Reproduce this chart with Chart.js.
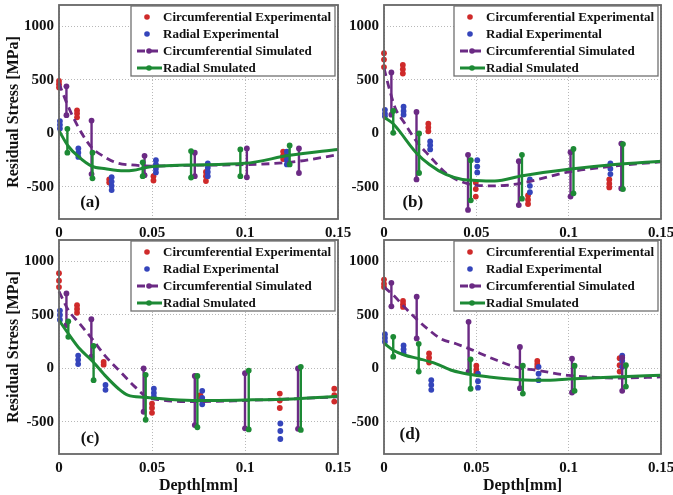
<!DOCTYPE html>
<html>
<head>
<meta charset="utf-8">
<title>Residual stress vs depth</title>
<script src="https://cdn.jsdelivr.net/npm/chart.js@4.4.1/dist/chart.umd.min.js"></script>
<style>
  html, body { margin: 0; padding: 0; background: #fff; }
  #wrap { position: relative; width: 673px; height: 495px; }
  #wrap canvas { position: absolute; left: 0; top: 0; }
</style>
</head>
<body>
<div id="wrap">
  <canvas id="panel_a" width="673" height="495"></canvas>
  <canvas id="panel_b" width="673" height="495"></canvas>
  <canvas id="panel_c" width="673" height="495"></canvas>
  <canvas id="panel_d" width="673" height="495"></canvas>
</div>
<script>
// axis ticks
const depthTicks = [0, 0.05, 0.1, 0.15];
const stressTicks = [-500, 0, 500, 1000];

const seriesNames = ["Circumferential Experimental", "Radial Experimental", "Circumferential Simulated", "Radial Smulated"];

// ---- panel (a) ---- [depth, stress] / bars: [depth, low, high]
const circExpA = [[0, 490], [0, 460], [0, 430], [0.0097, 215], [0.0097, 185], [0.0097, 150], [0.027, -430], [0.027, -460],
    [0.0508, -400], [0.0508, -440], [0.079, -360], [0.079, -400], [0.079, -445], [0.1205, -170], [0.1205, -205], [0.1205, -240]];
const radExpA = [[0.0005, 115], [0.0005, 80], [0.0005, 45], [0.0104, -140], [0.0104, -180], [0.0104, -220],
    [0.0283, -410], [0.0283, -450], [0.0283, -490], [0.0283, -530], [0.0521, -250], [0.0521, -290], [0.0521, -330], [0.0521, -365],
    [0.08, -280], [0.08, -320], [0.08, -360], [0.08, -400], [0.1225, -170], [0.1225, -210], [0.1225, -250], [0.1225, -290]];
const circSimA = [[0, 470], [0.004, 290], [0.01, 70], [0.0175, -130], [0.025, -225], [0.031, -275], [0.039, -295], [0.05, -305],
    [0.07, -298], [0.1, -292], [0.125, -268], [0.15, -200]];
const radSimA = [[0, 25], [0.005, -120], [0.01, -210], [0.0175, -305], [0.025, -330], [0.035, -350], [0.04, -345], [0.047, -318],
    [0.055, -305], [0.07, -295], [0.1, -280], [0.124, -205], [0.15, -150]];
const circBarA = [[0.004, 170, 440], [0.0175, -380, 120], [0.046, -390, -210], [0.073, -400, -180], [0.101, -410, -140], [0.129, -370, -140]];
const radBarA = [[0.0045, -180, 43], [0.018, -420, -180], [0.045, -400, -270], [0.071, -413, -165], [0.0975, -400, -150], [0.124, -290, -112]];

// ---- panel (b) ----
const circExpB = [[0, 750], [0, 690], [0, 620], [0.0102, 640], [0.0102, 600], [0.0102, 560], [0.024, 90], [0.024, 55], [0.024, 20],
    [0.0497, -460], [0.0497, -520], [0.0497, -590], [0.078, -580], [0.078, -620], [0.078, -660], [0.122, -430], [0.122, -470], [0.122, -505]];
const radExpB = [[0.0005, 220], [0.0005, 185], [0.0005, 160], [0.0106, 250], [0.0106, 210], [0.0106, 175], [0.025, -75], [0.025, -110], [0.025, -150],
    [0.0505, -250], [0.0505, -310], [0.0505, -365], [0.079, -430], [0.079, -490], [0.079, -550], [0.1226, -280], [0.1226, -330], [0.1226, -380]];
const circSimB = [[0, 610], [0.003, 410], [0.006, 240], [0.011, 100], [0.0174, -70], [0.0246, -210], [0.0335, -370], [0.041, -445],
    [0.05, -485], [0.06, -490], [0.073, -470], [0.1, -360], [0.125, -305], [0.15, -265]];
const radSimB = [[0, 150], [0.005, 90], [0.0075, 40], [0.0174, -180], [0.0246, -290], [0.0335, -383], [0.0425, -430], [0.05, -440],
    [0.06, -445], [0.075, -395], [0.1, -335], [0.125, -290], [0.15, -260]];
const circBarB = [[0.004, 175, 570], [0.0176, -430, 200], [0.0455, -715, -200], [0.073, -670, -260], [0.101, -590, -175], [0.1285, -515, -95]];
const radBarB = [[0.005, 5, 210], [0.019, -370, 0], [0.047, -625, -250], [0.0747, -610, -200], [0.1026, -560, -145], [0.1294, -520, -100]];

// ---- panel (c) ----
const circExpC = [[0, 890], [0, 820], [0, 760], [0.0097, 590], [0.0097, 555], [0.0097, 520], [0.024, 60], [0.024, 35],
    [0.05, -330], [0.05, -370], [0.05, -415], [0.076, -250], [0.076, -290], [0.1187, -235], [0.1187, -300], [0.1187, -370],
    [0.148, -190], [0.148, -250], [0.148, -310]];
const radExpC = [[0.0005, 540], [0.0005, 500], [0.0005, 455], [0.0103, 120], [0.0103, 80], [0.0103, 40], [0.025, -155], [0.025, -200],
    [0.051, -190], [0.051, -230], [0.051, -265], [0.077, -210], [0.077, -275], [0.077, -335], [0.119, -515], [0.119, -585], [0.119, -660]];
const circSimC = [[0, 720], [0.005, 545], [0.011, 420], [0.0176, 280], [0.0247, 120], [0.034, -50], [0.041, -175], [0.047, -265],
    [0.055, -295], [0.075, -310], [0.1, -300], [0.125, -285], [0.15, -265]];
const radSimC = [[0, 450], [0.005, 325], [0.011, 185], [0.0176, 75], [0.0247, -65], [0.032, -190], [0.037, -250], [0.046, -270],
    [0.06, -290], [0.075, -300], [0.1, -295], [0.125, -285], [0.15, -260]];
const circBarC = [[0.004, 405, 700], [0.0174, 110, 460], [0.0455, -405, 0], [0.073, -530, -70], [0.1, -560, -45], [0.1285, -565, 0]];
const radBarC = [[0.005, 295, 440], [0.0186, -110, 210], [0.0466, -480, -60], [0.0744, -550, -70], [0.102, -570, -20], [0.13, -575, 15]];

// ---- panel (d) ----
const circExpD = [[0, 830], [0, 790], [0, 760], [0.0103, 630], [0.0103, 600], [0.0103, 575], [0.0244, 140], [0.0244, 100], [0.0244, 55],
    [0.05, 25], [0.05, -10], [0.05, -40], [0.083, 70], [0.083, 40], [0.083, 15], [0.1276, 95], [0.1276, 30], [0.1276, -30]];
const radExpD = [[0.0005, 320], [0.0005, 285], [0.0005, 250], [0.0106, 215], [0.0106, 180], [0.0106, 145], [0.0256, -110], [0.0256, -155], [0.0256, -200],
    [0.0509, -50], [0.0509, -120], [0.0509, -180], [0.0837, 15], [0.0837, -50], [0.0837, -110], [0.129, 120], [0.129, 70], [0.129, 15]];
const circSimD = [[0, 760], [0.005, 685], [0.011, 575], [0.0174, 465], [0.0246, 355], [0.031, 275], [0.039, 230], [0.046, 185],
    [0.059, 90], [0.073, 5], [0.082, -15], [0.1, -65], [0.128, -90], [0.15, -80]];
const radSimD = [[0, 235], [0.005, 170], [0.011, 125], [0.019, 90], [0.028, 45], [0.037, -20], [0.046, -55], [0.057, -80],
    [0.073, -105], [0.09, -110], [0.1, -100], [0.125, -80], [0.15, -65]];
const circBarD = [[0.004, 580, 800], [0.0177, 280, 670], [0.0458, -30, 435], [0.0736, -185, 200], [0.1018, -225, 90], [0.129, -210, 100]];
const radBarD = [[0.005, 110, 295], [0.0188, -30, 230], [0.0469, -190, 85], [0.0752, -235, 25], [0.1032, -210, 25], [0.131, -170, 30]];

const RED = "#cf2a2a";
const BLUE = "#3545bb";
const PURPLE = "#6b2a84";
const GREEN = "#1d8a35";
const FONT = "'Liberation Serif', 'DejaVu Serif', serif";

const toPts = arr => arr.map(([x, y]) => ({ x: x, y: y }));
const toBars = arr => arr.flatMap(([x, lo, hi]) => [{ x: x, y: lo }, { x: x, y: hi }, { x: x, y: null }]);

// frame, panel tag and boxed legend
const panelDecor = {
    id: "panelDecor",
    afterDraw(chart, args, opts) {
        const ctx = chart.ctx;
        const a = chart.chartArea;
        ctx.save();
        ctx.strokeStyle = "#666";
        ctx.lineWidth = 1.8;
        ctx.strokeRect(a.left, a.top, a.right - a.left, a.bottom - a.top);

        ctx.font = "bold 17px " + FONT;
        ctx.fillStyle = "#111";
        ctx.textAlign = "center";
        ctx.textBaseline = "middle";
        ctx.fillText(opts.tag, chart.scales.x.getPixelForValue(opts.tagAt[0]), chart.scales.y.getPixelForValue(opts.tagAt[1]));

        // legend box
        const w = 204, h = 70;
        const bx = a.right - 3 - w, by = a.top + 1;
        ctx.fillStyle = "#fff";
        ctx.fillRect(bx, by, w, h);
        ctx.strokeStyle = "#707070";
        ctx.lineWidth = 1.3;
        ctx.strokeRect(bx, by, w, h);

        const keyed = chart.data.datasets.filter(d => d.keyIndex !== undefined).sort((p, q) => p.keyIndex - q.keyIndex);
        keyed.forEach((ds, i) => {
            const y = by + 11 + i * 17;
            const col = ds.pointBackgroundColor;
            if (ds.showLine) {
                ctx.strokeStyle = ds.borderColor;
                ctx.lineWidth = ds.borderWidth;
                ctx.setLineDash(ds.borderDash || []);
                ctx.beginPath();
                ctx.moveTo(bx + 6, y);
                ctx.lineTo(bx + 31, y);
                ctx.stroke();
                ctx.setLineDash([]);
            }
            ctx.fillStyle = col;
            ctx.beginPath();
            ctx.arc(bx + (ds.showLine ? 18 : 16), y, 2.8, 0, Math.PI * 2);
            ctx.fill();
            ctx.fillStyle = "#111";
            ctx.font = "bold 13px " + FONT;
            ctx.textAlign = "left";
            ctx.fillText(ds.label, bx + 32, y + 1);
        });
        ctx.restore();
    }
};

function makePanel(id, p) {
    const yW = p.yTitle ? 59 : 50;
    const xH = p.xTitle ? 41 : 22;
    return new Chart(id,
    {
        type: "scatter",
        data:
        {
            datasets:
            [
                {
                    label: seriesNames[3], keyIndex: 3, data: toPts(p.radSim), showLine: true,
                    borderColor: GREEN, borderWidth: 3, pointRadius: 0, pointBackgroundColor: GREEN,
                    cubicInterpolationMode: "monotone", order: 1
                },
                {
                    label: "radial bars", data: toBars(p.radBar), showLine: true, spanGaps: false,
                    borderColor: GREEN, borderWidth: 2.4, pointRadius: 2.9, pointBorderWidth: 0,
                    pointBackgroundColor: GREEN, order: 2
                },
                {
                    label: seriesNames[2], keyIndex: 2, data: toPts(p.circSim), showLine: true,
                    borderColor: PURPLE, borderWidth: 2.8, borderDash: [8, 5], pointRadius: 0,
                    pointBackgroundColor: PURPLE, cubicInterpolationMode: "monotone", order: 3
                },
                {
                    label: "circumferential bars", data: toBars(p.circBar), showLine: true, spanGaps: false,
                    borderColor: PURPLE, borderWidth: 2.4, pointRadius: 2.9, pointBorderWidth: 0,
                    pointBackgroundColor: PURPLE, order: 4
                },
                {
                    label: seriesNames[1], keyIndex: 1, data: toPts(p.radExp), showLine: false,
                    pointRadius: 2.9, pointBorderWidth: 0, pointBackgroundColor: BLUE, order: 5
                },
                {
                    label: seriesNames[0], keyIndex: 0, data: toPts(p.circExp), showLine: false,
                    pointRadius: 2.9, pointBorderWidth: 0, pointBackgroundColor: RED, order: 6
                }
            ]
        },
        options:
        {
            responsive: false,
            animation: false,
            events: [],
            devicePixelRatio: 1,
            clip: false,
            layout:
            {
                padding: { left: p.left - yW, right: 673 - p.right, top: p.top, bottom: 495 - p.bottom - xH }
            },
            plugins:
            {
                legend: { display: false },
                tooltip: { enabled: false },
                panelDecor: { tag: p.tag, tagAt: p.tagAt }
            },
            scales:
            {
                x:
                {
                    type: "linear",
                    min: 0,
                    max: 0.15,
                    afterBuildTicks: s => { s.ticks = depthTicks.map(v => ({ value: v })); },
                    afterFit: s => { s.height = xH; s.paddingLeft = 0; s.paddingRight = 0; },
                    grid: { color: "#b8b8b8", lineWidth: 1, drawTicks: false },
                    border: { display: false, dash: [1, 2] },
                    ticks:
                    {
                        padding: 5, color: "#111", maxRotation: 0, autoSkip: false,
                        font: { family: FONT, size: 15, weight: "bold" },
                        callback: v => String(v)
                    },
                    title:
                    {
                        display: p.xTitle, text: "Depth[mm]", color: "#111",
                        font: { family: FONT, size: 16, weight: "bold" },
                        padding: { top: 0, bottom: 0 }
                    }
                },
                y:
                {
                    min: -800,
                    max: 1200,
                    afterBuildTicks: s => { s.ticks = stressTicks.map(v => ({ value: v })); },
                    afterFit: s => { s.width = yW; s.paddingTop = 0; s.paddingBottom = 0; },
                    grid: { color: "#b8b8b8", lineWidth: 1, drawTicks: false },
                    border: { display: false, dash: [1, 2] },
                    ticks:
                    {
                        padding: 5, color: "#111",
                        font: { family: FONT, size: 15, weight: "bold" },
                        callback: v => String(v)
                    },
                    title:
                    {
                        display: p.yTitle, text: "Residual Stress [MPa]", color: "#111",
                        font: { family: FONT, size: 16, weight: "bold" },
                        padding: { top: 4, bottom: 0 }
                    }
                }
            }
        },
        plugins: [panelDecor]
    });
}

makePanel("panel_a", { tag: "(a)", tagAt: [0.0167, -650], left: 59, right: 338, top: 5, bottom: 219, yTitle: true, xTitle: false,
    circExp: circExpA, radExp: radExpA, circSim: circSimA, radSim: radSimA, circBar: circBarA, radBar: radBarA });
makePanel("panel_b", { tag: "(b)", tagAt: [0.0156, -650], left: 384, right: 661, top: 5, bottom: 219, yTitle: false, xTitle: false,
    circExp: circExpB, radExp: radExpB, circSim: circSimB, radSim: radSimB, circBar: circBarB, radBar: radBarB });
makePanel("panel_c", { tag: "(c)", tagAt: [0.0167, -660], left: 59, right: 338, top: 240, bottom: 454, yTitle: true, xTitle: true,
    circExp: circExpC, radExp: radExpC, circSim: circSimC, radSim: radSimC, circBar: circBarC, radBar: radBarC });
makePanel("panel_d", { tag: "(d)", tagAt: [0.014, -620], left: 384, right: 661, top: 240, bottom: 454, yTitle: false, xTitle: true,
    circExp: circExpD, radExp: radExpD, circSim: circSimD, radSim: radSimD, circBar: circBarD, radBar: radBarD });
</script>
</body>
</html>
